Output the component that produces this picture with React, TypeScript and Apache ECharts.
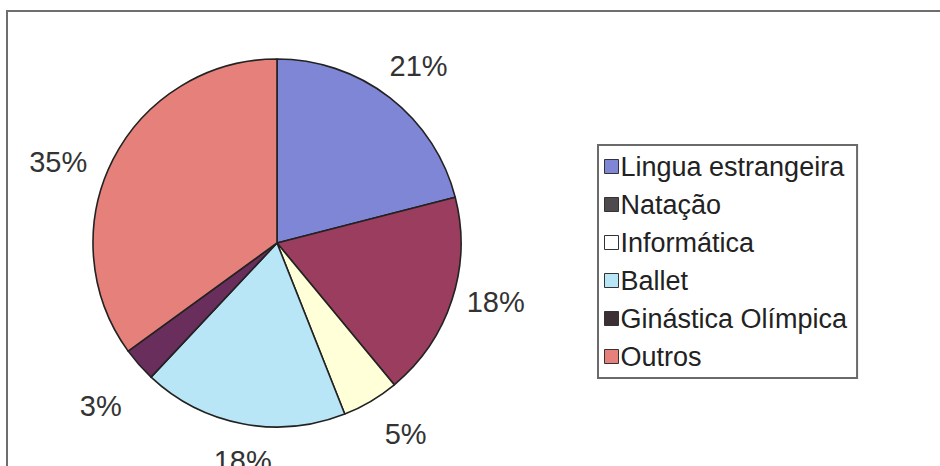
import React, { useEffect, useRef } from "react";
import * as echarts from "echarts";

const categories = ["Lingua estrangeira", "Natação", "Informática", "Ballet", "Ginástica Olímpica", "Outros"];
const values = [21, 18, 5, 18, 3, 35];
const sliceColors = ["#7f86d6", "#9b3d5e", "#ffffd8", "#b8e6f6", "#6a2e5c", "#e5807a"];
const legendColors = ["#7f86d6", "#4e4a4e", "#ffffff", "#b8e6f6", "#3c3034", "#e5807a"];

// small label nudges (style only) to mimic the original "best fit" placement
const labelNudges: [number, number][] = [
  [0, 6],
  [-1, -12],
  [11, -8],
  [9, -9],
  [-3, 10],
  [-13, 24],
];

export default function App() {
  const ref = useRef<HTMLDivElement>(null);
  useEffect(() => {
    const chart = echarts.init(ref.current!, null, { renderer: "svg" });
    const font = "'Liberation Sans', Arial, sans-serif";
    chart.setOption({
      animation: false,
      backgroundColor: "#ffffff",
      graphic: [
        {
          type: "rect",
          shape: { x: 7, y: 11, width: 960, height: 500 },
          style: { fill: "none", stroke: "#6e6e6e", lineWidth: 2 },
          silent: true,
        },
      ],
      legend: {
        orient: "vertical",
        left: 598,
        top: 145,
        padding: [8, 10, 8, 6],
        borderColor: "#6a6a6a",
        borderWidth: 2,
        itemWidth: 14,
        itemHeight: 14,
        itemGap: 11,
        icon: "rect",
        selectedMode: false,
        textStyle: { fontFamily: font, fontSize: 27, color: "#222", padding: [0, 0, 0, -3] },
        data: categories.map((n, i) => ({
          name: n,
          itemStyle: { color: legendColors[i], borderColor: "#333", borderWidth: 1 },
        })),
      },
      series: [
        {
          type: "pie",
          center: [277, 243],
          radius: 184,
          startAngle: 90,
          clockwise: true,
          silent: true,
          label: { show: false },
          labelLine: { show: false },
          itemStyle: { borderColor: "#222", borderWidth: 1.6 },
          data: categories.map((n, i) => ({ name: n, value: values[i], itemStyle: { color: sliceColors[i] } })),
        },
        {
          type: "pie",
          center: [277, 243],
          radius: [216, 240],
          startAngle: 90,
          clockwise: true,
          silent: true,
          itemStyle: { color: "transparent", borderWidth: 0 },
          label: {
            show: true,
            position: "inside",
            formatter: "{c}%",
            fontFamily: font,
            fontSize: 29,
            color: "#333",
          },
          labelLine: { show: false },
          data: categories.map((n, i) => ({
            name: n,
            value: values[i],
            label: { offset: labelNudges[i] },
          })),
        },
      ],
    });
    return () => chart.dispose();
  }, []);
  return (
    <div
      ref={ref}
      style={{ position: "fixed", left: 0, top: 0, width: 940, height: 466, background: "#fff" }}
    />
  );
}
